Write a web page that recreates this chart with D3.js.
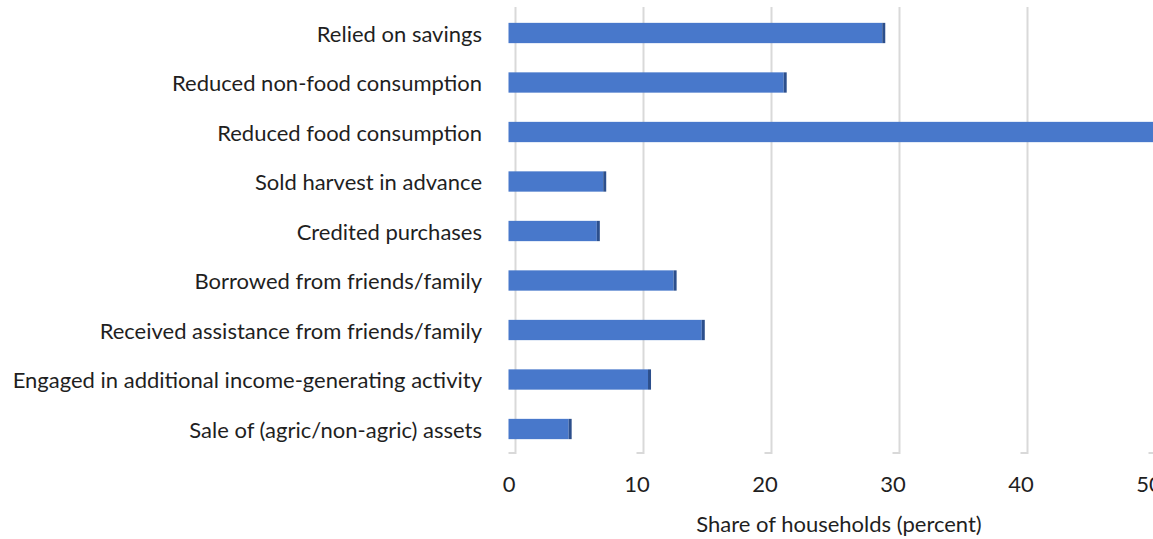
<!DOCTYPE html>
<html>
<head>
<meta charset="utf-8">
<script src="https://cdn.jsdelivr.net/npm/d3@7"></script>
<style>
  html, body { margin: 0; padding: 0; background: #fff; }
  svg { display: block; }
  text { font-family: Lato, "Open Sans", sans-serif; fill: #1f1f1f; }
</style>
</head>
<body>
<svg id="chart" width="1153" height="539"></svg>
<script>
// Coping strategies used by households, share in percent
const categories = [
  "Relied on savings",
  "Reduced non-food consumption",
  "Reduced food consumption",
  "Sold harvest in advance",
  "Credited purchases",
  "Borrowed from friends/family",
  "Received assistance from friends/family",
  "Engaged in additional income-generating activity",
  "Sale of (agric/non-agric) assets"
];
const shares = [29.2, 21.5, 52.0, 7.4, 6.9, 12.9, 15.1, 10.9, 4.7];
const tickValues = [0, 10, 20, 30, 40, 50];
const axisTitle = "Share of households (percent)";

const svg = d3.select("#chart");
const fontSize = 22;

const x = d3.scaleLinear().domain([0, 50]).range([508.5, 1148.5]);
const y = d3.scaleBand().domain(categories).range([8, 454]).paddingInner(0.59).paddingOuter(0.3);

const depth = 7;          // back-wall offset of the pseudo-3D plot
const floorY = 453;
const barColor = "#4878CB";
const sideColor = "#2C4F8C";

// gridlines on the back wall, each with a short floor segment
const grid = svg.append("g");
tickValues.forEach(t => {
  const gx = x(t) + depth;
  grid.append("path")
    .attr("d", `M${gx},7 V${floorY} H${x(t)}`)
    .attr("fill", "none")
    .attr("stroke", "#D9D9D9")
    .attr("stroke-width", 2);
});

// bars: front face plus dark right-hand side face
const bars = svg.append("g");
categories.forEach((c, i) => {
  const v = shares[i];
  const y0 = y(c), bh = y.bandwidth();
  bars.append("rect")
    .attr("x", x(0)).attr("y", y0)
    .attr("width", x(v) - x(0)).attr("height", bh)
    .attr("fill", barColor);
  bars.append("rect")
    .attr("x", x(v)).attr("y", y0)
    .attr("width", 3).attr("height", bh)
    .attr("fill", sideColor);
});

// category labels
svg.append("g").selectAll("text")
  .data(categories)
  .join("text")
  .attr("x", 482)
  .attr("y", d => y(d) + y.bandwidth() / 2)
  .attr("dy", "0.4em")
  .attr("text-anchor", "end")
  .attr("font-size", fontSize)
  .text(d => d);

// value axis labels
const xAxis = d3.axisBottom(x).tickValues(tickValues).tickSize(0).tickPadding(0);
const gx = svg.append("g").attr("transform", "translate(0,476)").call(xAxis);
gx.select(".domain").remove();
gx.selectAll("text")
  .attr("font-size", fontSize)
  .attr("font-family", "Lato, 'Open Sans', sans-serif")
  .attr("fill", "#1f1f1f");

// axis title
svg.append("text")
  .attr("x", 839)
  .attr("y", 532)
  .attr("text-anchor", "middle")
  .attr("font-size", fontSize)
  .text(axisTitle);
</script>
</body>
</html>
